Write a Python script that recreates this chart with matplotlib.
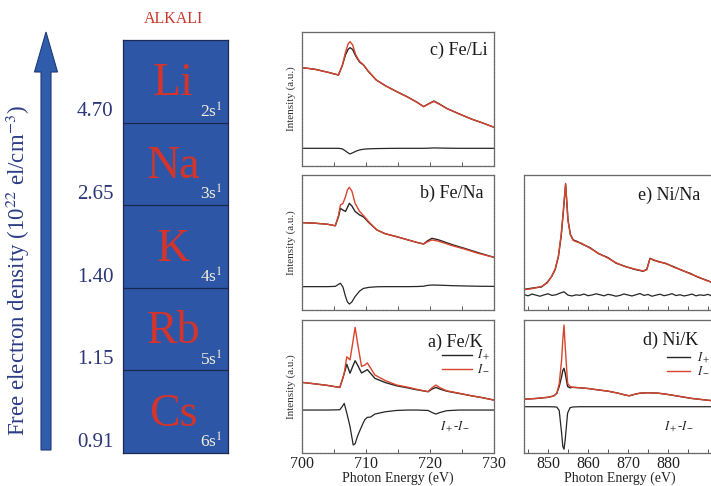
import matplotlib
matplotlib.use("Agg")
import matplotlib.pyplot as plt
from matplotlib.patches import FancyArrow

plt.rcParams['font.family'] = ['Liberation Serif', 'DejaVu Serif']
plt.rcParams['mathtext.fontset'] = 'stix'

# ---------------- data ----------------
elements = ['Li', 'Na', 'K', 'Rb', 'Cs']
shells = ['2s$^1$', '3s$^1$', '4s$^1$', '5s$^1$', '6s$^1$']
densities = ['4.70', '2.65', '1.40', '1.15', '0.91']

# c) Fe/Li
E_c = [700, 702, 704, 705.7, 706.3, 706.8, 707.2, 707.5, 707.9, 708.4, 709, 709.6, 710.3,
       711.6, 713, 714.8, 716.5, 718, 719, 719.8, 720.6, 721.5, 722.6, 724.5, 726.5, 728.3, 730]
c_plus = [0.734, 0.722, 0.700, 0.679, 0.75, 0.83, 0.87, 0.883, 0.87, 0.82, 0.775, 0.754, 0.71,
          0.642, 0.60, 0.555, 0.515, 0.475, 0.443, 0.465, 0.485, 0.462, 0.43, 0.39, 0.35, 0.32, 0.289]
c_minus = [0.734, 0.722, 0.700, 0.679, 0.75, 0.85, 0.91, 0.928, 0.905, 0.83, 0.78, 0.756, 0.71,
           0.642, 0.60, 0.555, 0.515, 0.475, 0.443, 0.463, 0.482, 0.460, 0.43, 0.39, 0.35, 0.32, 0.289]
c_diff = [0.132, 0.132, 0.132, 0.132, 0.128, 0.112, 0.098, 0.090, 0.098, 0.110, 0.120, 0.125, 0.128,
          0.130, 0.131, 0.132, 0.132, 0.132, 0.132, 0.133, 0.135, 0.134, 0.133, 0.132, 0.132, 0.132, 0.132]

# b) Fe/Na
E_b = [700, 702, 704, 705.2, 705.7, 706.0, 706.4, 706.8, 707.1, 707.4, 707.8, 708.3, 709, 709.6,
       710.5, 711.7, 713, 714.8, 716.5, 718, 719, 719.6, 720.3, 721.3, 722.5, 723.6, 725.5, 727.5, 730]
b_plus = [0.647, 0.643, 0.635, 0.624, 0.69, 0.753, 0.74, 0.73, 0.76, 0.79, 0.77, 0.73, 0.704, 0.69,
          0.645, 0.593, 0.565, 0.543, 0.52, 0.50, 0.489, 0.512, 0.531, 0.52, 0.50, 0.482, 0.455, 0.425, 0.39]
b_minus = [0.647, 0.643, 0.635, 0.624, 0.70, 0.778, 0.79, 0.84, 0.89, 0.909, 0.88, 0.79, 0.73, 0.70,
           0.65, 0.593, 0.565, 0.543, 0.52, 0.50, 0.489, 0.505, 0.519, 0.51, 0.492, 0.475, 0.45, 0.42, 0.39]
b_diff = [0.173, 0.173, 0.173, 0.175, 0.19, 0.198, 0.17, 0.10, 0.06, 0.044, 0.06, 0.10, 0.14, 0.16,
          0.168, 0.172, 0.173, 0.173, 0.173, 0.174, 0.176, 0.182, 0.185, 0.184, 0.182, 0.18, 0.178, 0.176, 0.175]

# a) Fe/K
E_a = [700, 702, 704, 705.9, 706.3, 706.6, 707.0, 707.5, 708.0, 708.3, 708.7, 709.3, 709.8, 710.2,
       710.7, 711.4, 713, 714.8, 716.5, 718, 719.7, 720.3, 720.9, 721.6, 722.6, 724.5, 726.5, 728.3, 730]
a_plus = [0.531, 0.52, 0.508, 0.493, 0.55, 0.599, 0.667, 0.60, 0.66, 0.694, 0.66, 0.602, 0.615, 0.627,
          0.60, 0.561, 0.53, 0.505, 0.49, 0.475, 0.461, 0.48, 0.493, 0.48, 0.465, 0.448, 0.43, 0.415, 0.398]
a_minus = [0.531, 0.52, 0.508, 0.493, 0.55, 0.60, 0.724, 0.70, 0.85, 0.945, 0.82, 0.652, 0.66, 0.677,
           0.64, 0.586, 0.545, 0.511, 0.495, 0.478, 0.461, 0.49, 0.511, 0.49, 0.468, 0.45, 0.43, 0.415, 0.398]
a_diff = [0.323, 0.323, 0.323, 0.325, 0.35, 0.373, 0.30, 0.20, 0.06, 0.07, 0.13, 0.198, 0.25, 0.268,
          0.27, 0.293, 0.31, 0.32, 0.323, 0.323, 0.32, 0.305, 0.293, 0.305, 0.318, 0.323, 0.323, 0.323, 0.323]

# e) Ni/Na
E_e = [844, 846, 848.4, 849.8, 850.9, 851.8, 852.6, 853.3, 853.8, 854.4, 855.0, 855.6, 856.3, 857.3,
       858.4, 860.5, 862.6, 865, 867, 869.3, 871.5, 873.8, 874.7, 875.5, 876.5, 877.6, 879.5, 881.5,
       883.4, 885.5, 887.5, 889.5, 891.5]
e_plus = [0.153, 0.162, 0.171, 0.205, 0.247, 0.30, 0.395, 0.55, 0.716, 0.93, 0.667, 0.56, 0.519, 0.508,
          0.490, 0.462, 0.418, 0.388, 0.347, 0.323, 0.302, 0.287, 0.302, 0.383, 0.368, 0.360, 0.343, 0.320,
          0.294, 0.272, 0.243, 0.222, 0.198]
e_minus = [0.150, 0.158, 0.175, 0.200, 0.250, 0.305, 0.40, 0.56, 0.725, 0.938, 0.66, 0.555, 0.515, 0.503,
           0.494, 0.458, 0.420, 0.384, 0.350, 0.321, 0.305, 0.289, 0.298, 0.380, 0.372, 0.356, 0.346, 0.316,
           0.297, 0.268, 0.246, 0.219, 0.201]
E_ed = [844, 845, 846, 847, 848, 849, 850, 851, 852, 853, 854, 855, 856, 857, 858, 859, 860, 861, 862,
        863, 864, 865, 866, 867, 868, 869, 870, 871, 872, 873, 874, 875, 876, 877, 878, 879, 880, 881,
        882, 883, 884, 885, 886, 887, 888, 889, 890, 891, 892]
e_diff = [0.115, 0.105, 0.118, 0.110, 0.102, 0.112, 0.120, 0.108, 0.113, 0.125, 0.135, 0.110, 0.104,
          0.112, 0.109, 0.118, 0.106, 0.111, 0.120, 0.113, 0.105, 0.116, 0.110, 0.102, 0.108, 0.119,
          0.111, 0.104, 0.113, 0.122, 0.108, 0.115, 0.102, 0.110, 0.117, 0.106, 0.112, 0.121, 0.107,
          0.113, 0.104, 0.110, 0.118, 0.105, 0.112, 0.108, 0.116, 0.103, 0.110]

# d) Ni/K
E_d = [844, 847, 850.1, 851.5, 852.2, 852.8, 853.4, 853.7, 854.0, 854.3, 854.9, 855.5, 856.2, 858,
       860, 862.6, 865, 867.5, 869.3, 870.3, 871.5, 873, 875, 877.5, 880, 883, 886, 889, 892]
d_plus = [0.404, 0.41, 0.419, 0.43, 0.449, 0.50, 0.574, 0.62, 0.637, 0.60, 0.50, 0.49, 0.494, 0.49,
          0.485, 0.474, 0.465, 0.45, 0.436, 0.43, 0.44, 0.45, 0.453, 0.45, 0.44, 0.425, 0.41, 0.40, 0.39]
d_minus = [0.404, 0.41, 0.419, 0.43, 0.449, 0.52, 0.699, 0.85, 0.962, 0.80, 0.524, 0.50, 0.494, 0.49,
           0.485, 0.474, 0.465, 0.45, 0.436, 0.43, 0.44, 0.45, 0.453, 0.45, 0.44, 0.425, 0.41, 0.40, 0.39]
d_diff = [0.348, 0.348, 0.348, 0.347, 0.345, 0.32, 0.15, 0.05, 0.028, 0.10, 0.30, 0.34, 0.346, 0.348,
          0.348, 0.348, 0.348, 0.348, 0.348, 0.348, 0.348, 0.348, 0.348, 0.348, 0.348, 0.348, 0.348, 0.348, 0.348]

# ---------------- figure ----------------
W, H = 711, 486
fig = plt.figure(figsize=(W / 100, H / 100), dpi=100)

def rect(x0, y0, x1, y1):
    return [x0 / W, (H - y1) / H, (x1 - x0) / W, (y1 - y0) / H]

BLACK = '#262626'
RED = '#d9442c'
NAVY = '#2b3577'

# overlay for arrow and vertical label
ov = fig.add_axes([0, 0, 1, 1], zorder=0)
ov.set_xlim(0, W)
ov.set_ylim(H, 0)
ov.axis('off')
ov.add_patch(FancyArrow(46, 450, 0, -418, width=10, head_width=23, head_length=40,
                        length_includes_head=True, facecolor='#2f5cab', edgecolor='#1d3a78', lw=0.8))
ov.text(18, 271, 'Free electron density (10$^{22}$ el/cm$^{-3}$)', rotation=90,
        ha='center', va='center', fontsize=16.5, color='#2a3d86')

# alkali box
axb = fig.add_axes(rect(123, 40, 228, 453), zorder=1)
axb.set_facecolor('#2d56a6')
axb.set_xlim(0, 1)
axb.set_ylim(len(elements), 0)
axb.set_xticks([])
axb.set_yticks([])
for s in axb.spines.values():
    s.set_color('#1b2a55')
    s.set_linewidth(0.9)
for i, (el, sh, de) in enumerate(zip(elements, shells, densities)):
    if i > 0:
        axb.axhline(i, color='#1b2650', lw=0.9)
    axb.text(0.48, i + 0.67, el, ha='center', va='baseline', fontsize=33, color='#d5342b')
    axb.text(0.95, i + 0.94, sh, ha='right', va='baseline', fontsize=12.5, color='#f2f0dc')
    axb.text(-0.09, i + 0.87, de, ha='right', va='center', fontsize=15, color=NAVY, clip_on=False)
axb.text(0.48, -0.26, 'ALKALI', ha='center', va='center', fontsize=11.5, color='#c8372c', clip_on=False)

def style(ax, xlim, majors, minors, labels=False, ylabel=True):
    ax.set_xlim(*xlim)
    ax.set_ylim(0, 1)
    ax.set_yticks([])
    ax.set_xticks(majors)
    ax.set_xticks(minors, minor=True)
    ax.tick_params(axis='x', which='both', direction='in', length=3, width=0.7, color='#555555',
                   labelsize=11.5, pad=2, labelcolor='#222222')
    if not labels:
        ax.tick_params(axis='x', which='both', labelbottom=False)
    else:
        ax.set_xlabel('Photon Energy (eV)', fontsize=10, color='#222222', labelpad=0)
    for s in ax.spines.values():
        s.set_color('#6a6a6a')
        s.set_linewidth(0.9)
        s.set_linestyle((0, (1.5, 0.6)))
    if ylabel:
        ax.set_ylabel('Intensity (a.u.)', fontsize=8, color='#333333', labelpad=4)

fe_major = [700, 710, 720, 730]
fe_minor = [705, 715, 725]
ni_major = [850, 860, 870, 880]
ni_minor = [845, 855, 865, 875, 885, 890]

panels = [
    (rect(302, 32, 494, 166), E_c, c_plus, c_minus, E_c, c_diff, 'c) Fe/Li', (0.964, 0.83), False, True, (700, 730), fe_major, fe_minor, None),
    (rect(302, 175, 494, 310), E_b, b_plus, b_minus, E_b, b_diff, 'b) Fe/Na', (0.943, 0.83), False, True, (700, 730), fe_major, fe_minor, None),
    (rect(302, 320, 494, 453), E_a, a_plus, a_minus, E_a, a_diff, 'a) Fe/K', (0.94, 0.80), True, True, (700, 730), fe_major, fe_minor, (0.73, 0.885, 0.737, 0.632, 0.91, 0.80, 0.195)),
    (rect(524, 175, 716, 310), E_e, e_plus, e_minus, E_ed, e_diff, 'e) Ni/Na', (0.917, 0.815), False, False, (844, 892), ni_major, ni_minor, None),
    (rect(524, 320, 716, 453), E_d, d_plus, d_minus, E_d, d_diff, 'd) Ni/K', (0.906, 0.81), True, False, (844, 892), ni_major, ni_minor, (0.745, 0.865, 0.72, 0.617, 0.90, 0.81, 0.195)),
]

for (r, E, yp, ym, Ed, yd, title, tpos, labels, ylab, xlim, maj, mnr, leg) in panels:
    ax = fig.add_axes(r, zorder=2)
    ax.plot(E, yp, color=BLACK, lw=1.0)
    ax.plot(E, ym, color=RED, lw=1.0)
    ax.plot(Ed, yd, color=BLACK, lw=0.9)
    style(ax, xlim, maj, mnr, labels=labels, ylabel=ylab)
    ax.text(tpos[0], tpos[1], title, transform=ax.transAxes, ha='right', va='baseline',
            fontsize=13, color='#1a1a1a')
    if leg is not None:
        x0, x1, yb, yr, xt, xd, yd_ = leg
        ax.plot([x0, x1], [yb, yb], transform=ax.transAxes, color=BLACK, lw=1.0)
        ax.plot([x0, x1], [yr, yr], transform=ax.transAxes, color=RED, lw=1.0)
        ax.text(xt, yb, '$I_+$', transform=ax.transAxes, ha='left', va='center', fontsize=9, color='#222222')
        ax.text(xt, yr, '$I_-$', transform=ax.transAxes, ha='left', va='center', fontsize=9, color='#222222')
        ax.text(xd, yd_, '$I_+$-$I_-$', transform=ax.transAxes, ha='center', va='center', fontsize=9, color='#222222')

fig.savefig('out.png', dpi=100)
